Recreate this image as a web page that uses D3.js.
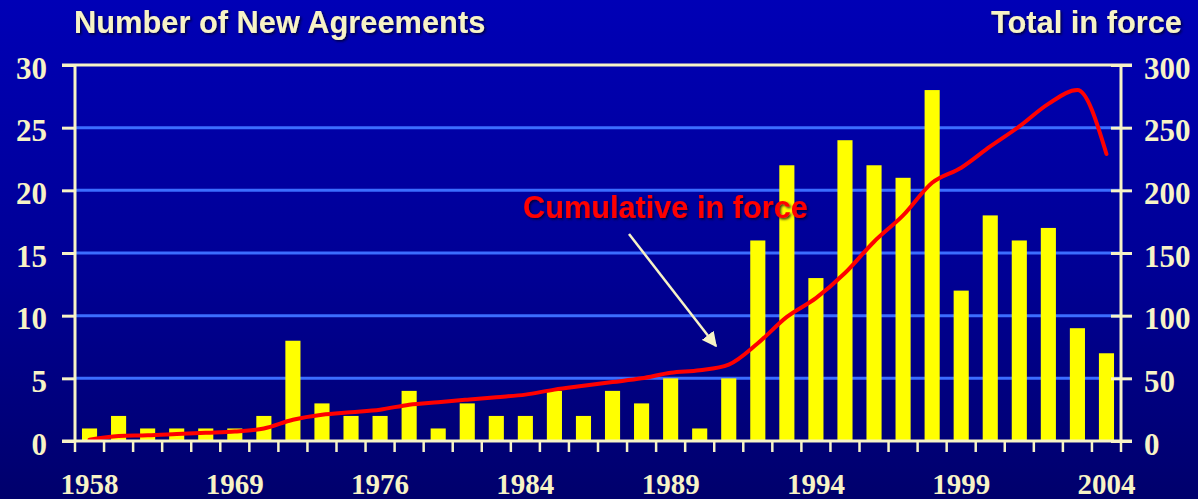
<!DOCTYPE html>
<html>
<head>
<meta charset="utf-8">
<script src="https://cdn.jsdelivr.net/npm/d3@7"></script>
<style>
  html, body { margin: 0; padding: 0; background: #00008c; }
  svg { display: block; }
</style>
</head>
<body>
<svg id="chart" width="1198" height="499"></svg>
<script>
// Agreements concluded per year (left axis) and cumulative total in force (right axis)
const years = [1958, 1960, 1962, 1964, 1967, 1969, 1971, 1972, 1973, 1975,
               1976, 1977, 1979, 1981, 1982, 1984, 1985, 1986, 1987, 1988,
               1989, 1990, 1991, 1992, 1993, 1994, 1995, 1996, 1997, 1998,
               1999, 2000, 2001, 2002, 2003, 2004];
const newAgreements = [1, 2, 1, 1, 1, 1, 2, 8, 3, 2,
                       2, 4, 1, 3, 2, 2, 4, 2, 4, 3,
                       5, 1, 5, 16, 22, 13, 24, 22, 21, 28,
                       12, 18, 16, 17, 9, 7];
const totalInForce = [1, 4, 4.5, 5.5, 6.5, 7.5, 10, 17, 21, 23,
                      25, 29, 31, 33, 35, 37, 41, 44, 47, 50,
                      54.5, 56.5, 61, 78, 99, 114, 134, 159, 180, 206,
                      218, 235, 251, 269, 280, 229];
const tickYears = [1958, 1969, 1976, 1984, 1989, 1994, 1999, 2004];
const leftTicks = [0, 5, 10, 15, 20, 25, 30];
const rightTicks = [0, 50, 100, 150, 200, 250, 300];

const cream = "#f7f3c6";
const svg = d3.select("#chart");

const defs = svg.append("defs");
const grad = defs.append("linearGradient").attr("id", "bg")
  .attr("x1", 0).attr("y1", 0).attr("x2", 0).attr("y2", 1);
grad.append("stop").attr("offset", "0%").attr("stop-color", "#0000b6");
grad.append("stop").attr("offset", "55%").attr("stop-color", "#000094");
grad.append("stop").attr("offset", "100%").attr("stop-color", "#00006c");

const shadow = defs.append("filter").attr("id", "shadow")
  .attr("x", "-5%").attr("y", "-20%").attr("width", "110%").attr("height", "150%");
shadow.append("feDropShadow").attr("dx", 1.5).attr("dy", 1.5)
  .attr("stdDeviation", 0.8).attr("flood-color", "#000020").attr("flood-opacity", 0.8);

const arrowMarker = defs.append("marker").attr("id", "arrowhead")
  .attr("viewBox", "0 0 10 10").attr("refX", 9).attr("refY", 5)
  .attr("markerWidth", 6).attr("markerHeight", 6).attr("orient", "auto")
  .attr("markerUnits", "strokeWidth");
arrowMarker.append("path").attr("d", "M0,0 L10,5 L0,10 Z").attr("fill", cream);

svg.append("rect").attr("width", 1198).attr("height", 499).attr("fill", "url(#bg)");

// Plot frame
const plotLeft = 75, plotRight = 1121, plotTop = 65, plotBottom = 441;

const x = d3.scaleBand().domain(years).range([plotLeft, plotRight])
  .paddingInner(0.48).paddingOuter(0.24);
const yLeft = d3.scaleLinear().domain([0, 30]).range([plotBottom, plotTop]);
const yRight = d3.scaleLinear().domain([0, 300]).range([plotBottom, plotTop]);

// Horizontal gridlines
svg.append("g").selectAll("line")
  .data(leftTicks.filter(v => v > 0 && v < 30))
  .join("line")
  .attr("x1", plotLeft).attr("x2", plotRight)
  .attr("y1", d => yLeft(d)).attr("y2", d => yLeft(d))
  .attr("stroke", "#3b6dff").attr("stroke-width", 3);

// Top border line
svg.append("line")
  .attr("x1", 62).attr("x2", 1132)
  .attr("y1", yLeft(30)).attr("y2", yLeft(30))
  .attr("stroke", cream).attr("stroke-width", 3);

// Bars
svg.append("g").selectAll("rect")
  .data(years)
  .join("rect")
  .attr("x", d => x(d))
  .attr("width", x.bandwidth())
  .attr("y", (d, i) => yLeft(newAgreements[i]))
  .attr("height", (d, i) => plotBottom - yLeft(newAgreements[i]))
  .attr("fill", "#ffff00");

// Cumulative line
const line = d3.line()
  .x((d, i) => x(years[i]) + x.bandwidth() / 2)
  .y(d => yRight(d))
  .curve(d3.curveMonotoneX);
svg.append("path")
  .datum(totalInForce)
  .attr("d", line)
  .attr("fill", "none")
  .attr("stroke", "#ff0000")
  .attr("stroke-width", 4)
  .attr("stroke-linejoin", "round")
  .attr("stroke-linecap", "round");

// Left axis
const gLeft = svg.append("g").attr("transform", `translate(${plotLeft},0)`)
  .call(d3.axisLeft(yLeft).tickValues(leftTicks).tickSize(13).tickPadding(15));
// Right axis
const gRight = svg.append("g").attr("transform", `translate(${plotRight},0)`)
  .call(d3.axisRight(yRight).tickValues(rightTicks).tickSize(11).tickPadding(12));
gRight.selectAll(".tick line").attr("x1", -10);

// Bottom axis: labels under selected years, ticks at band boundaries
const gBottom = svg.append("g").attr("transform", `translate(0,${plotBottom})`)
  .call(d3.axisBottom(x).tickValues(tickYears).tickSize(0));
gBottom.selectAll(".tick text").attr("y", 53).attr("dy", 0);
const half = x.step() * x.paddingInner() / 2;
const bounds = years.map(d => x(d) - half).concat([x(years[years.length - 1]) + x.bandwidth() + half]);
gBottom.append("g").selectAll("line")
  .data(bounds)
  .join("line")
  .attr("x1", d => d).attr("x2", d => d)
  .attr("y1", 0).attr("y2", 11)
  .attr("stroke", cream).attr("stroke-width", 2.5);

[gLeft, gRight, gBottom].forEach(g => {
  g.select(".domain").remove();
  g.selectAll(".tick line").attr("stroke", cream).attr("stroke-width", 3);
  g.selectAll(".tick text")
    .attr("fill", cream)
    .attr("font-family", "'Liberation Serif', 'Times New Roman', serif")
    .attr("font-weight", "bold");
});
gLeft.selectAll(".tick text").attr("font-size", 31).attr("dy", "0.42em");
gRight.selectAll(".tick text").attr("font-size", 31).attr("dy", "0.42em");
gBottom.selectAll(".tick text").attr("font-size", 29);

// Axis lines
svg.append("line").attr("x1", plotLeft).attr("x2", plotLeft).attr("y1", plotTop).attr("y2", plotBottom)
  .attr("stroke", cream).attr("stroke-width", 3);
svg.append("line").attr("x1", plotRight).attr("x2", plotRight).attr("y1", plotTop).attr("y2", plotBottom)
  .attr("stroke", cream).attr("stroke-width", 3);
svg.append("line").attr("x1", 62).attr("x2", 1132).attr("y1", plotBottom).attr("y2", plotBottom)
  .attr("stroke", cream).attr("stroke-width", 3);

// Titles
const titleFont = "'Liberation Sans', Arial, sans-serif";
svg.append("text").attr("x", 74).attr("y", 33)
  .attr("font-family", titleFont).attr("font-weight", "bold").attr("font-size", 30.8)
  .attr("fill", cream).attr("filter", "url(#shadow)")
  .text("Number of New Agreements");
svg.append("text").attr("x", 1182).attr("y", 33).attr("text-anchor", "end")
  .attr("font-family", titleFont).attr("font-weight", "bold").attr("font-size", 30.8)
  .attr("fill", cream).attr("filter", "url(#shadow)")
  .text("Total in force");

// Annotation
svg.append("text").attr("x", 523).attr("y", 218)
  .attr("font-family", titleFont).attr("font-weight", "bold").attr("font-size", 30.7)
  .attr("fill", "#ff0000").attr("filter", "url(#shadow)")
  .text("Cumulative in force");
svg.append("line")
  .attr("x1", 629).attr("y1", 234).attr("x2", 716).attr("y2", 346)
  .attr("stroke", cream).attr("stroke-width", 2.5)
  .attr("marker-end", "url(#arrowhead)");
</script>
</body>
</html>
